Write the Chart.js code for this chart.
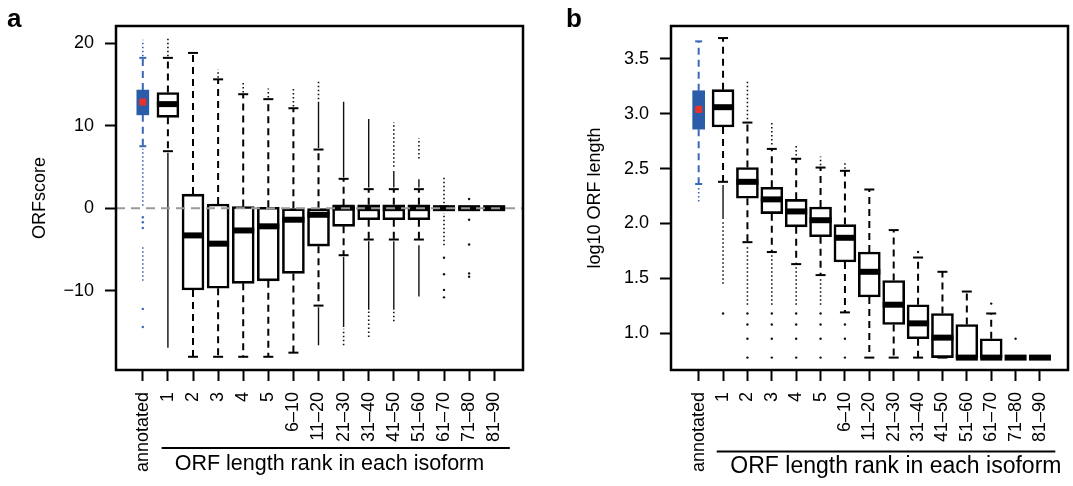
<!DOCTYPE html>
<html>
<head>
<meta charset="utf-8">
<script src="https://cdn.jsdelivr.net/npm/chart.js@4.4.1/dist/chart.umd.min.js"></script>
<style>
  html, body { margin: 0; padding: 0; background: #fff; overflow: hidden; width: 1073px; height: 486px; }
  .panel { position: absolute; top: 0; height: 486px; }
  .tag { position: absolute; font: bold 26px "Liberation Sans", Arial, sans-serif; color: #000; }
</style>
</head>
<body>
<div class="panel" style="left:0;width:540px"><canvas id="chartA" width="540" height="486"></canvas></div>
<div class="panel" style="left:540px;width:545px"><canvas id="chartB" width="545" height="486"></canvas></div>
<div class="tag" style="left:7px;top:3px">a</div>
<div class="tag" style="left:566px;top:3px">b</div>
<script>
const FONT = '"Liberation Sans", Arial, Helvetica, sans-serif';
const BLUE = '#2b5ca9', BLUE_LINE = '#3a67b6', RED = '#e5332a';

const labels = ['annotated', '1', '2', '3', '4', '5', '6–10', '11–20', '21–30', '31–40', '41–50', '51–60', '61–70', '71–80', '81–90'];

// ---- panel a: ORFscore ----
const aTicks = [-10, 0, 10, 20];
const aQ3 = [14.3, 14.0, 1.7, 0.5, 0.2, 0.1, 0.0, 0.0, 0.3, 0.4, 0.4, 0.4, 0.2, 0.1, 0.1];
const aMed = [12.85, 12.6, -3.3, -4.3, -2.7, -2.2, -1.4, -0.8, 0.05, 0, 0, 0, 0, 0, 0];
const aQ1 = [11.3, 11.0, -9.9, -9.7, -9.1, -8.8, -7.9, -4.6, -2.2, -1.4, -1.4, -1.4, -0.2, -0.1, -0.1];
const aHi = [18.2, 18.2, 18.8, 15.6, 13.8, 13.2, 12.1, 7.1, 3.55, 2.3, 2.3, 2.3, 0.2, 0.1, 0.1];
const aLo = [7.5, 6.9, -18.0, -18.0, -18.0, -18.0, -17.5, -11.8, -5.7, -3.8, -3.8, -3.8, -0.2, -0.1, -0.1];
// outliers: [category, from, to] for dense runs, [category, value] for single dots
const aSolid = [[1, -16.9, 6.7], [7, 7.3, 12.9], [7, -16.6, -12.0], [8, 3.7, 12.9], [8, -14.4, -5.9],
  [9, 2.5, 10.8], [9, -12.3, -4.0], [10, 2.5, 4.5], [10, -12.3, -4.0], [11, 2.5, 3.5], [11, -10.7, -4.5]];
const aDotted = [[1, 18.4, 20.6], [3, 15.8, 16.8], [4, 14.0, 15.2], [5, 13.4, 14.5], [6, 12.3, 14.7],
  [7, 13.2, 15.4], [8, -16.6, -14.6], [9, -15.6, -12.5], [10, 5.0, 10.4], [10, -13.7, -12.5],
  [11, 6.0, 8.5], [12, 0.6, 3.8], [12, -4.5, -0.6]];
const aDots = [[12, -6.0], [12, -8.0], [12, -9.9], [12, -10.8], [13, 1.1], [13, -1.4], [13, -4.4], [13, -7.9], [13, -8.3]];
const aBlueDotted = [[0, 18.4, 20.4], [0, 0.3, 7.2], [0, -8.8, -4.6]];
const aBlueDots = [[0, -1.1], [0, -1.7], [0, -2.4], [0, -12.2], [0, -14.4]];

// ---- panel b: log10 ORF length ----
const bTicks = [1.0, 1.5, 2.0, 2.5, 3.0, 3.5];
const bQ3 = [3.21, 3.22, 2.51, 2.33, 2.22, 2.15, 1.99, 1.74, 1.48, 1.26, 1.18, 1.08, 0.95, 0.778, 0.778];
const bMed = [3.04, 3.06, 2.38, 2.22, 2.11, 2.03, 1.87, 1.56, 1.26, 1.09, 0.96, 0.778, 0.778, 0.778, 0.778];
const bQ1 = [2.86, 2.88, 2.23, 2.09, 1.97, 1.88, 1.65, 1.33, 1.08, 0.95, 0.778, 0.778, 0.778, 0.778, 0.778];
const bHi = [3.66, 3.69, 2.92, 2.68, 2.59, 2.51, 2.48, 2.31, 1.94, 1.69, 1.56, 1.38, 1.18, 0.778, 0.778];
const bLo = [2.36, 2.38, 1.83, 1.74, 1.63, 1.53, 1.19, 0.778, 0.778, 0.778, 0.778, 0.778, 0.778, 0.778, 0.778];
const bSolid = [[1, 2.04, 2.35]];
const bDotted = [[1, 1.45, 2.02], [2, 2.95, 3.30], [2, 1.26, 1.80], [3, 2.72, 2.92], [3, 1.26, 1.72],
  [4, 2.62, 2.71], [4, 1.26, 1.61], [5, 2.53, 2.61], [5, 1.26, 1.51], [6, 2.50, 2.56]];
const bDots = [[1, 1.18], [2, 1.18], [2, 1.08], [2, 0.95], [2, 0.778], [3, 1.18], [3, 1.08], [3, 0.95], [3, 0.778],
  [4, 1.18], [4, 1.08], [4, 0.95], [4, 0.778], [5, 1.18], [5, 1.08], [5, 0.95], [5, 0.778],
  [6, 1.08], [6, 0.95], [6, 0.778], [9, 1.74], [12, 1.27], [13, 0.95]];
const bBlueDotted = [[0, 2.20, 2.33]];
const bBlueDots = [];

const segs = list => list.flatMap(([c, from, to]) => [{ x: c, y: from }, { x: c, y: to }, { x: c, y: null }]);
const dots = list => list.map(([c, v]) => ({ x: c, y: v }));
const whiskers = (p, idx) => idx.flatMap(i => [
  { x: i, y: p.q3[i] }, { x: i, y: p.hi[i] }, { x: i, y: null },
  { x: i, y: p.q1[i] }, { x: i, y: p.lo[i] }, { x: i, y: null }]);

const frame = {
  id: 'frame',
  afterDatasetsDraw(chart, args, o) {
    const { ctx, chartArea: a, scales: { x } } = chart;
    ctx.save();
    ctx.strokeStyle = '#000';
    ctx.lineWidth = 2.5;
    ctx.strokeRect(a.left, a.top, a.right - a.left, a.bottom - a.top);
    ctx.lineWidth = 1.8;
    ctx.beginPath();
    ctx.moveTo(x.getPixelForValue(o.from), o.lineY);
    ctx.lineTo(x.getPixelForValue(o.to), o.lineY);
    ctx.stroke();
    ctx.fillStyle = '#000';
    ctx.font = `${o.size}px ${FONT}`;
    ctx.textBaseline = 'alphabetic';
    ctx.fillText(o.text, x.getPixelForValue(o.textAt), o.textY);
    ctx.restore();
  }
};

function panel(id, p) {
  const idx = labels.map((_, i) => i).slice(1);
  const at = (arr, list) => list.map(i => ({ x: i, y: arr[i] }));
  const lineDs = (data, color, width, dash, order) => ({
    type: 'line', data, borderColor: color, borderWidth: width, borderDash: dash,
    pointRadius: 0, fill: false, tension: 0, spanGaps: false, order
  });
  const datasets = [
    { type: 'scatter', data: at(p.med, idx), pointStyle: 'line', pointRadius: 11, pointBorderWidth: 6, pointBorderColor: '#000', borderColor: '#000', order: 1 },
    { type: 'scatter', data: at(p.med, [0]), pointStyle: 'rect', pointRadius: 5, pointBackgroundColor: RED, pointBorderWidth: 0, order: 1 },
    { type: 'scatter', data: [...at(p.hi, idx), ...at(p.lo, idx)], pointStyle: 'line', pointRadius: 5, pointBorderWidth: 2, pointBorderColor: '#000', borderColor: '#000', order: 2 },
    { type: 'scatter', data: [...at(p.hi, [0]), ...at(p.lo, [0])], pointStyle: 'line', pointRadius: 3.5, pointBorderWidth: 2, pointBorderColor: BLUE_LINE, borderColor: BLUE_LINE, order: 2 },
    { type: 'bar', data: idx.map(i => ({ x: i, y: [p.q1[i], p.q3[i]] })), backgroundColor: '#fff', borderColor: '#000', borderWidth: 2.6,
      borderSkipped: false, grouped: false, barPercentage: 1, categoryPercentage: 1, maxBarThickness: 22, order: 3 },
    { type: 'bar', data: [{ x: 0, y: [p.q1[0], p.q3[0]] }], backgroundColor: BLUE, borderWidth: 0,
      borderSkipped: false, grouped: false, barPercentage: 1, categoryPercentage: 1, maxBarThickness: 12, order: 3 },
    lineDs(whiskers(p, idx), '#000', 2, [7, 5], 4),
    lineDs(whiskers(p, [0]), BLUE_LINE, 2, [7, 5], 4),
    lineDs(segs(p.solid), '#111', 1.4, [], 5),
    lineDs(segs(p.dotted), '#111', 1.6, [1.5, 2.5], 5),
    lineDs(segs(p.blueDotted), BLUE_LINE, 1.6, [1.5, 2.5], 5),
    { type: 'scatter', data: dots(p.dots), pointRadius: 1.2, pointBackgroundColor: '#111', pointBorderWidth: 0, order: 5 },
    { type: 'scatter', data: dots(p.blueDots), pointRadius: 1.2, pointBackgroundColor: BLUE_LINE, pointBorderWidth: 0, order: 5 }
  ];
  if (p.zero) datasets.unshift(lineDs([{ x: p.xMin, y: 0 }, { x: p.xMax, y: 0 }], '#9a9a9a', 2, [9, 6], 0));

  const tickFont = { family: FONT, size: 18 };
  return new Chart(document.getElementById(id), {
    type: 'scatter',
    data: { datasets },
    options: {
      responsive: false, animation: false, events: [],
      layout: { padding: { left: 0, top: 26, right: p.padRight, bottom: 0 } },
      plugins: { legend: { display: false }, tooltip: { enabled: false }, frame: p.caption },
      scales: {
        x: {
          type: 'linear', min: p.xMin, max: p.xMax, offset: false,
          afterBuildTicks: s => { s.ticks = labels.map((_, i) => ({ value: i })); },
          afterFit: s => { s.height = 116; },
          border: { display: false },
          grid: { drawOnChartArea: false, offset: false, tickLength: 11, tickWidth: 2, tickColor: '#000' },
          ticks: { autoSkip: false, minRotation: 90, maxRotation: 90, padding: 11, color: '#000', font: tickFont, callback: v => labels[v] }
        },
        y: {
          type: 'linear', min: p.yMin, max: p.yMax,
          afterBuildTicks: s => { s.ticks = p.yTicks.map(v => ({ value: v })); },
          afterFit: s => { s.width = p.yWidth; },
          border: { display: false },
          grid: { drawOnChartArea: false, tickLength: 11, tickWidth: 2, tickColor: '#000' },
          ticks: { padding: 11, color: '#000', font: tickFont, callback: p.fmt },
          title: { display: true, text: p.title, color: '#000', font: tickFont, padding: { top: p.titlePad, bottom: 0 } }
        }
      }
    },
    plugins: [frame]
  });
}

panel('chartA', {
  q1: aQ1, med: aMed, q3: aQ3, lo: aLo, hi: aHi,
  solid: aSolid, dotted: aDotted, dots: aDots, blueDotted: aBlueDotted, blueDots: aBlueDots,
  zero: true, xMin: -1.068, xMax: 15.147, yMin: -19.6, yMax: 22.06, yTicks: aTicks,
  fmt: v => (v < 0 ? '\u2212' + Math.abs(v) : String(v)),
  yWidth: 116, padRight: 14, title: 'ORFscore', titlePad: 29,
  caption: { text: 'ORF length rank in each isoform', from: 0.75, to: 14.62, textAt: 1.27, lineY: 448, textY: 470, size: 21.5 }
});

panel('chartB', {
  q1: bQ1, med: bMed, q3: bQ3, lo: bLo, hi: bHi,
  solid: bSolid, dotted: bDotted, dots: bDots, blueDotted: bBlueDotted, blueDots: bBlueDots,
  zero: false, xMin: -1.135, xMax: 15.15, yMin: 0.665, yMax: 3.80, yTicks: bTicks,
  fmt: v => v.toFixed(1),
  yWidth: 131, padRight: 4, title: 'log10 ORF length', titlePad: 44,
  caption: { text: 'ORF length rank in each isoform', from: 0.74, to: 14.63, textAt: 1.3, lineY: 451.5, textY: 473, size: 23 }
});
</script>
</body>
</html>
